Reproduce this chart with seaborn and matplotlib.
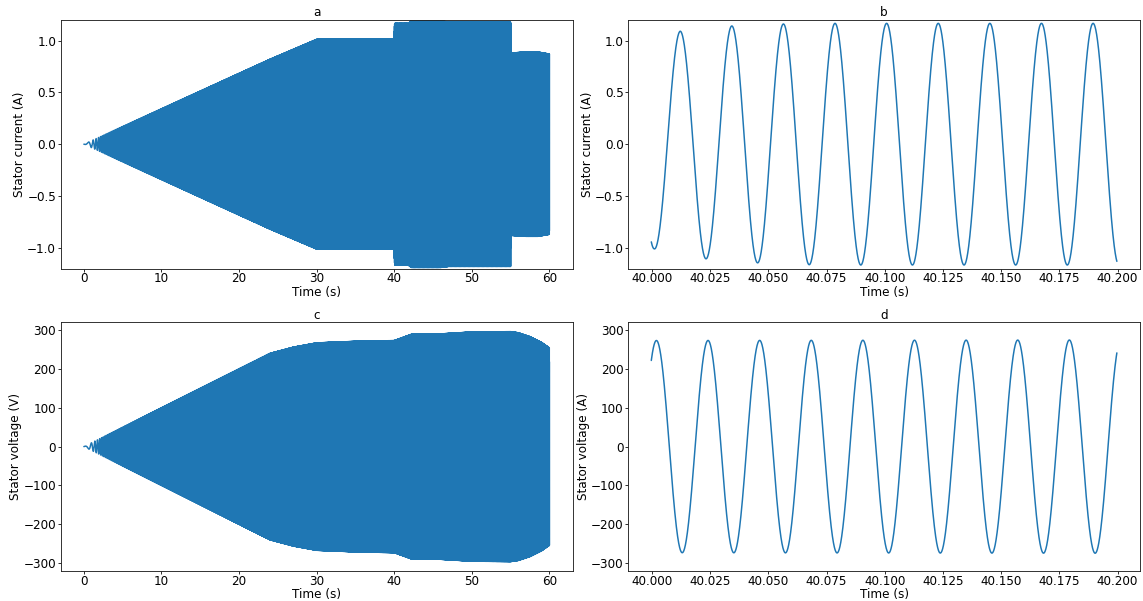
import numpy as np
import pandas as pd
import matplotlib
matplotlib.use("Agg")
import matplotlib.pyplot as plt
import seaborn as sns

# ---- drive settings -------------------------------------------------------
BASE_FREQ = 45.1          # Hz, supply frequency once the ramp is over
RAMP_END = 24.0           # s, end of the frequency ramp
I_PEAK_TIME = 40.0121     # s, a positive current peak in the zoomed window
V_PEAK_TIME = 40.0019     # s, a positive voltage peak in the zoomed window

# ---- stator current amplitude (A) over the run ----------------------------
current_env_t = [0.0, 24.0, 30.0, 40.0, 40.001, 40.0121, 40.0232, 40.0343,
                 40.0453, 40.0564, 40.0786, 41.8, 42.2, 46.0, 47.0, 55.0,
                 55.02, 57.0, 58.5, 60.0]
current_env_a = [0.0, 0.82, 1.012, 1.012, 1.01, 1.09, 1.106, 1.141,
                 1.145, 1.16, 1.166, 1.166, 1.19, 1.19, 1.18, 1.18,
                 0.88, 0.89, 0.89, 0.87]

# ---- stator voltage amplitude (V) over the run ----------------------------
voltage_env_t = [0.0, 24.0, 27.0, 30.0, 35.0, 40.0, 42.2, 45.0, 50.0, 55.0,
                 56.0, 57.5, 59.0, 60.0]
voltage_env_a = [0.0, 240.0, 256.0, 267.0, 271.0, 273.0, 289.0, 289.0,
                 295.0, 296.0, 293.0, 283.0, 268.0, 254.0]

# ---- time bases ------------------------------------------------------------
FULL_START, FULL_END, FULL_RATE = 0.0, 60.0, 2000.0
ZOOM_START, ZOOM_END, ZOOM_RATE = 39.9997, 40.1997, 20000.0

# ---- tick values -----------------------------------------------------------
time_ticks = [0, 10, 20, 30, 40, 50, 60]
zoom_ticks = [40.000, 40.025, 40.050, 40.075, 40.100, 40.125, 40.150,
              40.175, 40.200]
current_ticks = [-1.0, -0.5, 0.0, 0.5, 1.0]
voltage_ticks = [-300, -200, -100, 0, 100, 200, 300]
CURRENT_LIM = (-1.2, 1.2)
VOLTAGE_LIM = (-320, 320)


def carrier_phase(t):
    """Electrical angle of the supply: linear frequency ramp, then constant."""
    t = np.asarray(t, dtype=float)
    k = BASE_FREQ / RAMP_END
    ramp = np.pi * k * t ** 2
    steady = 2 * np.pi * (0.5 * BASE_FREQ * RAMP_END + BASE_FREQ * (t - RAMP_END))
    return np.where(t < RAMP_END, ramp, steady)


def waveform(t, env_t, env_a, peak_time):
    amp = np.interp(t, env_t, env_a)
    return amp * np.cos(carrier_phase(t) - carrier_phase(peak_time))


t_full = np.arange(FULL_START, FULL_END + 0.5 / FULL_RATE, 1.0 / FULL_RATE)
t_zoom = np.arange(ZOOM_START, ZOOM_END + 0.5 / ZOOM_RATE, 1.0 / ZOOM_RATE)

full = pd.DataFrame({
    "time": t_full,
    "current": waveform(t_full, current_env_t, current_env_a, I_PEAK_TIME),
    "voltage": waveform(t_full, voltage_env_t, voltage_env_a, V_PEAK_TIME),
})
zoom = pd.DataFrame({
    "time": t_zoom,
    "current": waveform(t_zoom, current_env_t, current_env_a, I_PEAK_TIME),
    "voltage": waveform(t_zoom, voltage_env_t, voltage_env_a, V_PEAK_TIME),
})

# ---- styling ---------------------------------------------------------------
sns.set_theme(style="ticks")
plt.rcParams.update({
    "font.family": ["DejaVu Sans"],
    "font.size": 12,
    "axes.titlesize": 12,
    "axes.labelsize": 12,
    "xtick.labelsize": 12,
    "ytick.labelsize": 12,
    "axes.edgecolor": "#222222",
    "axes.linewidth": 0.9,
    "xtick.color": "black",
    "ytick.color": "black",
    "text.color": "black",
    "axes.labelcolor": "black",
    "xtick.major.size": 3.0,
    "ytick.major.size": 3.0,
    "xtick.major.width": 0.8,
    "ytick.major.width": 0.8,
    "xtick.major.pad": 0.8,
    "ytick.major.pad": 1.5,
    "axes.labelpad": 1.0,
})

LINE_COLOR = "#1f77b4"
DPI = 72
fig, axes = plt.subplots(2, 2, figsize=(1143 / DPI, 601 / DPI), dpi=DPI)
fig.subplots_adjust(left=0.053, right=0.9975, top=0.967, bottom=0.05,
                    wspace=0.108, hspace=0.216)

panels = [
    (axes[0, 0], full, "current", "a", "Stator current (A)", time_ticks, current_ticks, CURRENT_LIM),
    (axes[0, 1], zoom, "current", "b", "Stator current (A)", zoom_ticks, current_ticks, CURRENT_LIM),
    (axes[1, 0], full, "voltage", "c", "Stator voltage (V)", time_ticks, voltage_ticks, VOLTAGE_LIM),
    (axes[1, 1], zoom, "voltage", "d", "Stator voltage (A)", zoom_ticks, voltage_ticks, VOLTAGE_LIM),
]

for ax, data, col, title, ylabel, xt, yt, ylim in panels:
    sns.lineplot(data=data, x="time", y=col, ax=ax, color=LINE_COLOR,
                 linewidth=1.5, estimator=None, errorbar=None, sort=False)
    ax.set_title(title, pad=3.5)
    ax.set_xlabel("Time (s)", labelpad=0.5)
    ax.set_ylabel(ylabel, labelpad=1.0)
    ax.set_xticks(xt)
    ax.set_yticks(yt)
    ax.set_ylim(*ylim)
    t_min, t_max = data["time"].min(), data["time"].max()
    margin = 0.05 * (t_max - t_min)
    ax.set_xlim(t_min - margin, t_max + margin)
    for side in ("top", "right", "left", "bottom"):
        ax.spines[side].set_visible(True)

axes[0, 1].xaxis.set_major_formatter(matplotlib.ticker.FormatStrFormatter("%.3f"))
axes[1, 1].xaxis.set_major_formatter(matplotlib.ticker.FormatStrFormatter("%.3f"))

fig.savefig("out.png", dpi=DPI)
